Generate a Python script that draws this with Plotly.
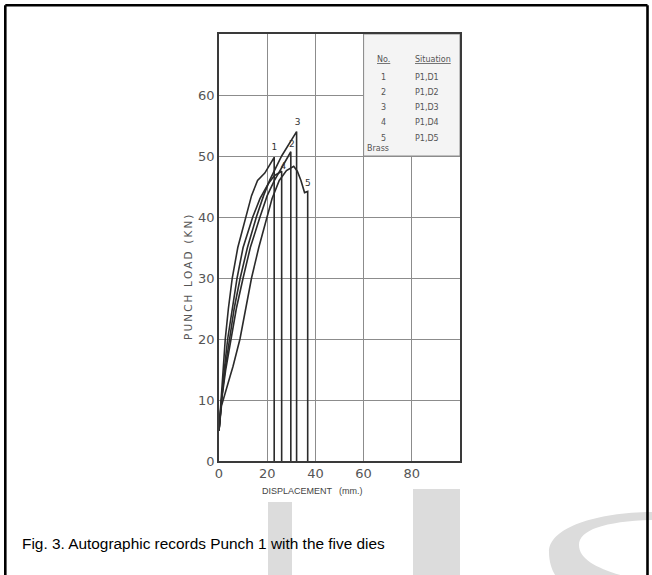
import plotly.graph_objects as go

# ---------------- data ----------------
c1_x = [0, 0.8, 1.6, 2.6, 3.9, 5.5, 7.8, 11.0, 13.5, 16.0, 19.0, 22.8, 22.9, 22.9]
c1_y = [5, 10, 15, 20, 25, 30, 35, 40, 43.5, 46.0, 47.2, 49.7, 49.7, 0]

c2_x = [0, 1.1, 2.8, 4.9, 7.2, 10.0, 13.0, 17.0, 20.0, 23.0, 26.5, 29.8, 29.8]
c2_y = [5, 10, 15, 20, 25, 30, 35, 40, 43.5, 46.0, 48.5, 50.7, 0]

c3_x = [0, 1.0, 2.5, 4.3, 6.3, 8.8, 11.8, 15.5, 18.5, 21.0, 26.0, 32.2, 32.2]
c3_y = [5, 10, 15, 20, 25, 30, 35, 40, 43.5, 46.0, 50.0, 54.0, 0]

c4_x = [0, 1.0, 2.2, 3.6, 5.4, 7.5, 10.0, 14.0, 17.0, 20.5, 23.0, 26.0, 26.0]
c4_y = [5, 10, 15, 20, 25, 30, 35, 40, 43.0, 45.5, 46.8, 47.5, 0]

c5_x = [0, 1.0, 4.6, 5.8, 8.7, 11.0, 13.5, 16.5, 20.0, 22.0, 25.0, 28.0, 31.0, 32.5, 34.0, 35.5, 36.8, 36.8]
c5_y = [5, 9, 13.9, 15.5, 20, 25, 30, 35, 40, 43, 46, 47.6, 48.3, 47.5, 46.0, 44.0, 44.2, 0]

curves = [(c1_x, c1_y), (c2_x, c2_y), (c3_x, c3_y), (c4_x, c4_y), (c5_x, c5_y)]

label_text = ["1", "2", "3", "4", "5"]
label_x = [23.0, 30.2, 32.6, 26.7, 36.9]
label_y = [51.3, 51.8, 55.4, 48.3, 45.4]

x_ticks = [0, 20, 40, 60, 80]
y_ticks = [0, 10, 20, 30, 40, 50, 60]

table_no = ["1", "2", "3", "4", "5"]
table_situation = ["P1,D1", "P1,D2", "P1,D3", "P1,D4", "P1,D5"]
table_note = "Brass"

caption = "Fig. 3. Autographic records Punch 1 with the five dies"
x_title = "DISPLACEMENT\u2002 (mm.)"
y_title = "\u2009".join("PUNCH LOAD (KN)")

# ---------------- layout helpers ----------------
W, H = 652, 575
L, R, T, B = 219, 460, 34, 461  # plot area in pixels


def px(p):
    return (p - L) / (R - L)


def py(p):
    return (B - p) / (B - T)


fig = go.Figure()

for cx, cy in curves:
    fig.add_trace(go.Scatter(x=cx, y=cy, mode="lines",
                             line=dict(color="#2b2b2b", width=1.6),
                             hoverinfo="skip", showlegend=False))

fig.add_trace(go.Scatter(x=label_x, y=label_y, mode="text", text=label_text,
                         textfont=dict(family="DejaVu Sans", size=9, color="#333"),
                         hoverinfo="skip", showlegend=False))

grid = "#8c8c8c"
shapes = []
# legend box (covers grid)
shapes.append(dict(type="rect", xref="x", yref="y", x0=60, x1=100, y0=50, y1=70,
                   fillcolor="#f4f4f4", line=dict(color=grid, width=1), layer="between"))

# watermark
wm = "#dcdcdc"
shapes.append(dict(type="rect", xref="paper", yref="paper",
                   x0=px(268), x1=px(292), y0=py(580), y1=py(502),
                   fillcolor=wm, line=dict(width=0), layer="below"))
shapes.append(dict(type="rect", xref="paper", yref="paper",
                   x0=px(413), x1=px(460), y0=py(580), y1=py(489),
                   fillcolor=wm, line=dict(width=0), layer="below"))


def P(x, y):
    return f"{px(x):.4f},{py(y):.4f}"


cpath = (f"M {P(655,512)} C {P(598,512)} {P(549,527)} {P(549,552)} "
         f"C {P(549,565)} {P(554,575)} {P(559,580)} L {P(640,580)} "
         f"C {P(605,572)} {P(579,562)} {P(579,545)} "
         f"C {P(579,530)} {P(605,521)} {P(655,520)} Z")
shapes.append(dict(type="path", xref="paper", yref="paper", path=cpath,
                   fillcolor=wm, line=dict(width=0), layer="below"))

# outer frame
fr = dict(color="black", width=2.6)
shapes.append(dict(type="line", xref="paper", yref="paper",
                   x0=px(5.3), x1=px(5.3), y0=py(5.3), y1=py(580), line=fr))
shapes.append(dict(type="line", xref="paper", yref="paper",
                   x0=px(5.3), x1=px(647.5), y0=py(5.3), y1=py(5.3), line=fr))
shapes.append(dict(type="line", xref="paper", yref="paper",
                   x0=px(647.5), x1=px(647.5), y0=py(5.3), y1=py(580), line=fr))

ann = []
tf = dict(family="DejaVu Sans", size=8, color="#555")
row_step = 2.5
header_y = 65.85
first_row_y = 62.95
ann.append(dict(x=68.4, y=header_y, xref="x", yref="y", text="<u>No.</u>",
                showarrow=False, font=tf, xanchor="center"))
ann.append(dict(x=80.6, y=header_y, xref="x", yref="y", text="<u>Situation</u>",
                showarrow=False, font=tf, xanchor="left"))
for i, (n, s) in enumerate(zip(table_no, table_situation)):
    yy = first_row_y - row_step * i
    ann.append(dict(x=68.4, y=yy, xref="x", yref="y", text=n, showarrow=False,
                    font=tf, xanchor="center"))
    ann.append(dict(x=80.6, y=yy, xref="x", yref="y", text=s, showarrow=False,
                    font=tf, xanchor="left"))
ann.append(dict(x=60.6, y=51.15, xref="x", yref="y", text=table_note, showarrow=False,
                font=tf, xanchor="left"))

ann.append(dict(x=px(312), y=py(491), xref="paper", yref="paper", text=x_title,
                showarrow=False, font=dict(family="Liberation Sans", size=9, color="#444"),
                xanchor="center", yanchor="middle"))
ann.append(dict(x=px(188), y=py(278), xref="paper", yref="paper", text=y_title,
                textangle=-90, showarrow=False,
                font=dict(family="DejaVu Sans", size=10.5, color="#555"),
                xanchor="center", yanchor="middle"))
ann.append(dict(x=px(20), y=py(543), xref="paper", yref="paper", text=caption,
                showarrow=False, font=dict(family="Liberation Sans", size=15.4, color="black"),
                xanchor="left", yanchor="middle"))

axis_common = dict(showline=True, linecolor="#3a3a3a", linewidth=1.5, mirror=True,
                   showgrid=True, gridcolor=grid, gridwidth=1, zeroline=False,
                   ticks="", tickfont=dict(family="DejaVu Sans", size=13, color="#555"),
                   fixedrange=True)

fig.update_layout(
    width=W, height=H,
    margin=dict(l=L, r=W - R, t=T, b=H - B),
    paper_bgcolor="white", plot_bgcolor="white",
    xaxis=dict(range=[0, 100], tickvals=x_ticks, ticktext=[str(v) for v in x_ticks],
               **axis_common),
    yaxis=dict(range=[0, 70], tickvals=y_ticks, ticktext=[str(v) for v in y_ticks],
               **axis_common),
    shapes=shapes, annotations=ann, showlegend=False,
)

fig.write_html("out.html", config={"displayModeBar": False},
               post_script="document.body.style.margin='0px';document.body.style.overflow='hidden';")
